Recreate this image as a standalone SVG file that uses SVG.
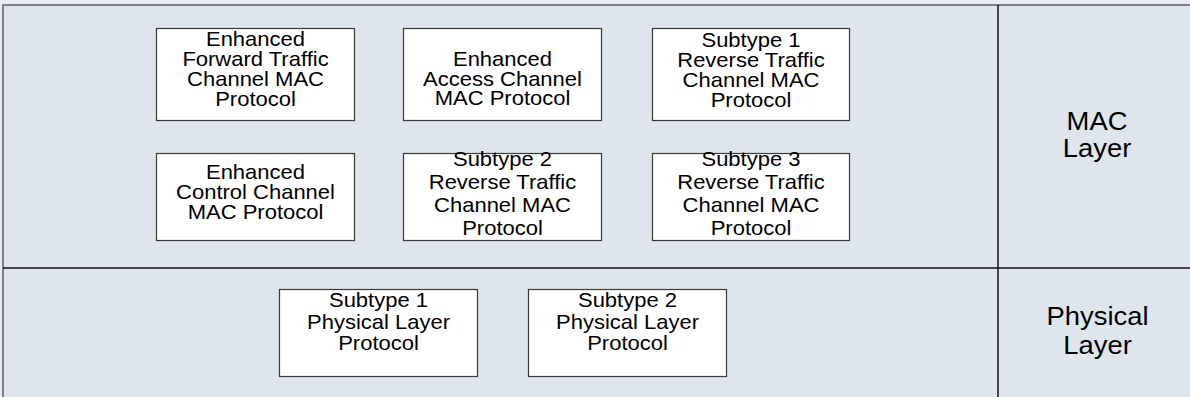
<svg xmlns="http://www.w3.org/2000/svg" width="1190" height="397" viewBox="0 0 1190 397">
<style>
.bg{fill:#dee5ed}
.frame{fill:#dee5ed;stroke:#5a6068;stroke-width:1.5}
.div{stroke:#111;stroke-width:1.5;fill:none}
.box{fill:#fff;stroke:#3a3a3a;stroke-width:1.2}
.t{font-family:"Liberation Sans",Arial,sans-serif;font-size:20px;fill:#000;text-anchor:middle}
.lt{font-family:"Liberation Sans",Arial,sans-serif;font-size:25.6px;fill:#000;text-anchor:middle}
</style>
<rect x="0" y="0" width="1190" height="397" fill="#e7ecf2"/>
<rect class="frame" x="3" y="5" width="1200" height="400"/>
<g id="connectors">
<line class="div" x1="998" y1="5" x2="998" y2="397"/>
<line class="div" x1="3" y1="268" x2="1190" y2="268"/>
</g>
<g id="layer-labels">
<g id="mac-layer">
<text class="lt" transform="translate(1097,130) scale(1.07,1)">MAC</text>
<text class="lt" transform="translate(1097,157) scale(1.07,1)">Layer</text>
</g>
<g id="physical-layer">
<text class="lt" transform="translate(1097.5,325) scale(1.07,1)">Physical</text>
<text class="lt" transform="translate(1097.5,354) scale(1.07,1)">Layer</text>
</g>
</g>
<g id="enh-fwd">
<rect class="box" x="156.5" y="28.5" width="198" height="92"/>
<text class="t" transform="translate(255.5,46) scale(1.1,1)">Enhanced</text>
<text class="t" transform="translate(255.5,66) scale(1.1,1)">Forward Traffic</text>
<text class="t" transform="translate(255.5,86) scale(1.1,1)">Channel MAC</text>
<text class="t" transform="translate(255.5,105.5) scale(1.1,1)">Protocol</text>
</g>
<g id="enh-access">
<rect class="box" x="403.5" y="28.5" width="198" height="92"/>
<text class="t" transform="translate(502.5,66) scale(1.1,1)">Enhanced</text>
<text class="t" transform="translate(502.5,85.5) scale(1.1,1)">Access Channel</text>
<text class="t" transform="translate(502.5,105) scale(1.1,1)">MAC Protocol</text>
</g>
<g id="sub1-rev">
<rect class="box" x="652.5" y="28.5" width="197" height="92"/>
<text class="t" transform="translate(751,46.5) scale(1.1,1)">Subtype 1</text>
<text class="t" transform="translate(751,66.5) scale(1.1,1)">Reverse Traffic</text>
<text class="t" transform="translate(751,86.5) scale(1.1,1)">Channel MAC</text>
<text class="t" transform="translate(751,106.5) scale(1.1,1)">Protocol</text>
</g>
<g id="enh-ctrl">
<rect class="box" x="156.5" y="153.5" width="198" height="87"/>
<text class="t" transform="translate(255.5,179) scale(1.1,1)">Enhanced</text>
<text class="t" transform="translate(255.5,199) scale(1.1,1)">Control Channel</text>
<text class="t" transform="translate(255.5,219) scale(1.1,1)">MAC Protocol</text>
</g>
<g id="sub2-rev">
<rect class="box" x="403.5" y="153.5" width="198" height="87"/>
<text class="t" transform="translate(502.5,166) scale(1.1,1)">Subtype 2</text>
<text class="t" transform="translate(502.5,189) scale(1.1,1)">Reverse Traffic</text>
<text class="t" transform="translate(502.5,212) scale(1.1,1)">Channel MAC</text>
<text class="t" transform="translate(502.5,235) scale(1.1,1)">Protocol</text>
</g>
<g id="sub3-rev">
<rect class="box" x="652.5" y="153.5" width="197" height="87"/>
<text class="t" transform="translate(751,166) scale(1.1,1)">Subtype 3</text>
<text class="t" transform="translate(751,189) scale(1.1,1)">Reverse Traffic</text>
<text class="t" transform="translate(751,212) scale(1.1,1)">Channel MAC</text>
<text class="t" transform="translate(751,235) scale(1.1,1)">Protocol</text>
</g>
<g id="sub1-phy">
<rect class="box" x="279.5" y="289.5" width="198" height="87"/>
<text class="t" transform="translate(378.5,307) scale(1.1,1)">Subtype 1</text>
<text class="t" transform="translate(378.5,328.5) scale(1.1,1)">Physical Layer</text>
<text class="t" transform="translate(378.5,350) scale(1.1,1)">Protocol</text>
</g>
<g id="sub2-phy">
<rect class="box" x="528.5" y="289.5" width="198" height="87"/>
<text class="t" transform="translate(627.5,307) scale(1.1,1)">Subtype 2</text>
<text class="t" transform="translate(627.5,328.5) scale(1.1,1)">Physical Layer</text>
<text class="t" transform="translate(627.5,350) scale(1.1,1)">Protocol</text>
</g>
</svg>
